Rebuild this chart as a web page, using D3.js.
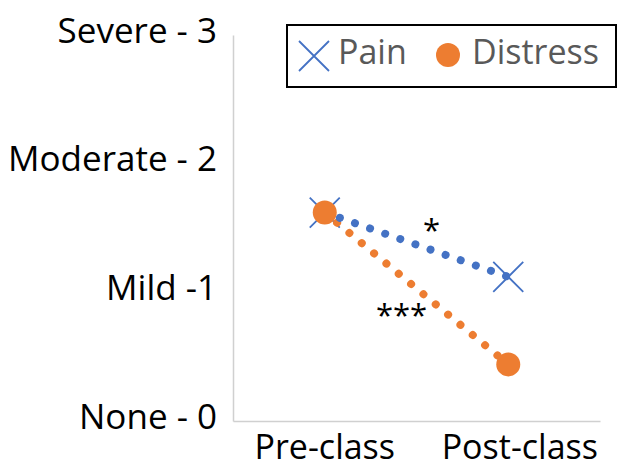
<!DOCTYPE html>
<html>
<head>
  <meta charset="utf-8">
  <title>Pain and distress</title>
  <script src="https://d3js.org/d3.v7.min.js"></script>
  <style>
    body { margin: 0; background: #fff; }
    svg text { font-family: "Open Sans", sans-serif; }
  </style>
</head>
<body>
<div id="chart"></div>
<script>
// data
var categories = ["Pre-class", "Post-class"];
var painValues = [1.62, 1.12];
var distressValues = [1.62, 0.44];
var tickValues = [0, 1, 2, 3];
var tickLabels = ["None - 0", "Mild -1", "Moderate - 2", "Severe - 3"];
var seriesNames = ["Pain", "Distress"];
var stars = ["*", "***"];

var W = 618, H = 472;
var mLeft = 233, mRight = 600, mTop = 35, mBottom = 421;

var svg = d3.select("#chart").append("svg")
  .attr("width", W).attr("height", H);

var x = d3.scaleBand().domain(categories).range([mLeft, mRight]);
var y = d3.scaleLinear().domain([0, 3]).range([mBottom, mTop]);
var cx = function(c) { return x(c) + x.bandwidth() / 2; };

// axes
var yAxis = svg.append("g").attr("transform", "translate(" + mLeft + ",0)")
  .call(d3.axisLeft(y).tickValues(tickValues).tickSize(0).tickPadding(16)
    .tickFormat(function(d, i) { return tickLabels[i]; }));
yAxis.select(".domain").attr("stroke", "#d0d0d0").attr("stroke-width", 1.5);
yAxis.selectAll("text").attr("font-size", 35).attr("fill", "#000")
  .attr("dy", "0.2em");

var xAxis = svg.append("g").attr("transform", "translate(0," + mBottom + ")")
  .call(d3.axisBottom(x).tickSize(0).tickPadding(14));
xAxis.select(".domain").attr("stroke", "#d0d0d0").attr("stroke-width", 1.5);
xAxis.selectAll("text").attr("font-size", 34).attr("fill", "#000")
  .attr("dy", "0.71em")
  .attr("transform", function(d) {
    // keep last label flush with the axis end, like Excel
    var w = this.getComputedTextLength();
    var shift = (mRight - 2) - (cx(d) + w / 2);
    return d === categories[categories.length - 1] ? "translate(" + shift + ",0)" : null;
  });

var blue = "#4472c4", orange = "#ed7d31";
var line = d3.line().x(function(d, i) { return cx(categories[i]); }).y(function(d) { return y(d); });

function xMark(g, px, py, s, col) {
  g.append("path")
    .attr("d", "M" + (px - s) + "," + (py - s) + "L" + (px + s) + "," + (py + s) +
               "M" + (px - s) + "," + (py + s) + "L" + (px + s) + "," + (py - s))
    .attr("stroke", col).attr("stroke-width", 1.8).attr("fill", "none");
}

// pain markers
var painG = svg.append("g");
painValues.forEach(function(v, i) { xMark(painG, cx(categories[i]), y(v), 15, blue); });

// distress line + markers
svg.append("path").datum(distressValues).attr("d", line)
  .attr("fill", "none").attr("stroke", orange).attr("stroke-width", 8)
  .attr("stroke-linecap", "round").attr("stroke-dasharray", "0.01 16");
svg.selectAll("circle.distress").data(distressValues).enter().append("circle")
  .attr("class", "distress")
  .attr("cx", function(d, i) { return cx(categories[i]); })
  .attr("cy", function(d) { return y(d); })
  .attr("r", 12).attr("fill", orange);

// pain line
svg.append("path").datum(painValues).attr("d", line)
  .attr("fill", "none").attr("stroke", blue).attr("stroke-width", 8)
  .attr("stroke-linecap", "round").attr("stroke-dasharray", "0.01 16")
  .attr("stroke-dashoffset", -16);

// significance stars, near the middle of each line
var mid = (cx(categories[0]) + cx(categories[1])) / 2;
svg.append("text").attr("x", mid + 15)
  .attr("y", y((painValues[0] + painValues[1]) / 2) - 4)
  .attr("text-anchor", "middle").attr("font-size", 31).text(stars[0]);
svg.append("text").attr("x", mid - 15)
  .attr("y", y((distressValues[0] + distressValues[1]) / 2) + 38)
  .attr("text-anchor", "middle").attr("font-size", 31).text(stars[1]);

// legend
var lg = svg.append("g");
lg.append("rect").attr("x", 287).attr("y", 25).attr("width", 329).attr("height", 62)
  .attr("fill", "#fff").attr("stroke", "#000").attr("stroke-width", 2);
xMark(lg, 314, 56, 15, blue);
lg.append("text").attr("x", 338).attr("y", 64).attr("font-size", 34)
  .attr("fill", "#595959").text(seriesNames[0]);
lg.append("circle").attr("cx", 448).attr("cy", 55).attr("r", 12).attr("fill", orange);
lg.append("text").attr("x", 472).attr("y", 64).attr("font-size", 34)
  .attr("fill", "#595959").text(seriesNames[1]);
</script>
</body>
</html>
